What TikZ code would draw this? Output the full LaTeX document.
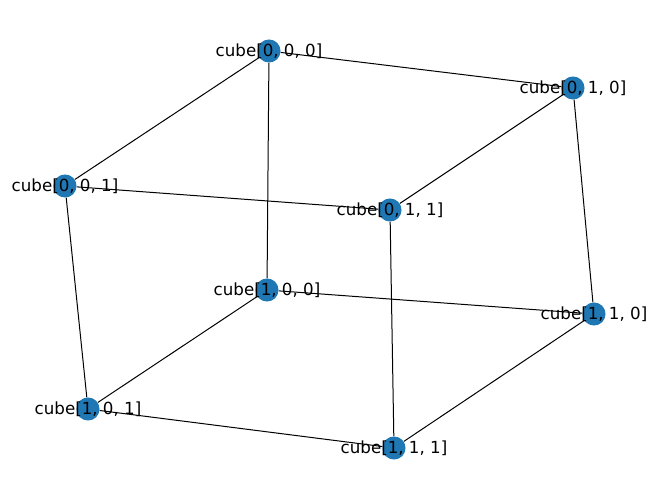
\documentclass[tikz,border=0pt]{standalone}
\usepackage{fontspec}
\setmainfont{DejaVu Sans}

\begin{document}
\begin{tikzpicture}[
x={(0.72pt,0)}, y={(0,-0.72pt)},
vertex/.style={circle, fill=vblue, draw=none, minimum size=16.6pt, inner sep=0pt},
lbl/.style={font=\fontsize{12pt}{14pt}\selectfont, inner sep=0pt},
edge/.style={line width=0.72pt, black}
]
\definecolor{vblue}{HTML}{1F77B4}
\useasboundingbox (0,0) rectangle (660,499);
\node[vertex] (c000) at (269,51) {};
\node[vertex] (c010) at (573,88) {};
\node[vertex] (c001) at (65,186) {};
\node[vertex] (c011) at (390,210) {};
\node[vertex] (c100) at (267,290) {};
\node[vertex] (c110) at (594,314) {};
\node[vertex] (c101) at (88,409) {};
\node[vertex] (c111) at (394,448) {};
\draw[edge] (c000) -- (c010);
\draw[edge] (c000) -- (c001);
\draw[edge] (c000) -- (c100);
\draw[edge] (c010) -- (c011);
\draw[edge] (c010) -- (c110);
\draw[edge] (c001) -- (c011);
\draw[edge] (c001) -- (c101);
\draw[edge] (c011) -- (c111);
\draw[edge] (c100) -- (c110);
\draw[edge] (c100) -- (c101);
\draw[edge] (c110) -- (c111);
\draw[edge] (c101) -- (c111);
\node[lbl] (t000) at (c000) {cube[0, 0, 0]};
\node[lbl] (t010) at (c010) {cube[0, 1, 0]};
\node[lbl] (t001) at (c001) {cube[0, 0, 1]};
\node[lbl] (t011) at (c011) {cube[0, 1, 1]};
\node[lbl] (t100) at (c100) {cube[1, 0, 0]};
\node[lbl] (t110) at (c110) {cube[1, 1, 0]};
\node[lbl] (t101) at (c101) {cube[1, 0, 1]};
\node[lbl] (t111) at (c111) {cube[1, 1, 1]};
\end{tikzpicture}
\end{document}
